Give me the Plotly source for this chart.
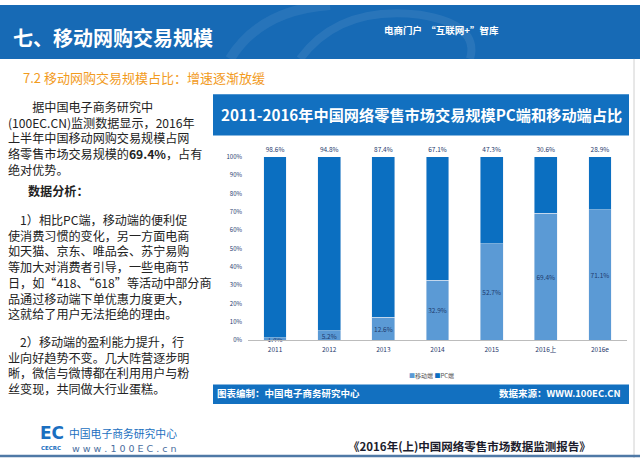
import plotly.graph_objects as go

# ---------------- data ----------------
categories = ["2011", "2012", "2013", "2014", "2015", "2016上", "2016e"]
mobile_share = [1.4, 5.2, 12.6, 32.9, 52.7, 69.4, 71.1]
pc_share = [98.6, 94.8, 87.4, 67.1, 47.3, 30.6, 28.9]
y_ticks = [0, 10, 20, 30, 40, 50, 60, 70, 80, 90, 100]
y_tick_labels = [f"{v}%" for v in y_ticks]
series_names = ["移动端", "PC端"]

W, H = 640, 462
CJK = "Noto Sans CJK SC"
NAVY = "#1f3a6e"
PC_COLOR = "#0b6fc1"
MOB_COLOR = "#5b9ad5"
BAND = "#1270c0"

fig = go.Figure()
fig.add_trace(go.Bar(
    x=categories, y=mobile_share, name=series_names[0], marker_color=MOB_COLOR,
    width=0.42, text=[f"{v}%" for v in mobile_share],
    textposition="inside", insidetextanchor="middle", constraintext="none",
    textangle=0, insidetextfont=dict(size=6.5, color=NAVY, family=CJK),
    hoverinfo="skip", cliponaxis=False,
))
fig.add_trace(go.Bar(
    x=categories, y=pc_share, name=series_names[1], marker_color=PC_COLOR,
    width=0.42, text=[f"{v}%" for v in pc_share],
    textposition="outside", constraintext="none", textangle=0,
    outsidetextfont=dict(size=6.5, color=NAVY, family=CJK),
    hoverinfo="skip", cliponaxis=False,
))


def px(x):
    return x / W


def py(y):
    return 1 - y / H


annotations = []


def ann(text, x, y, size, color="#222222", xanchor="left", family=CJK,
        yanchor="middle"):
    annotations.append(dict(
        text=text, x=px(x), y=py(y), xref="paper", yref="paper",
        xanchor=xanchor, yanchor=yanchor, showarrow=False, borderpad=0,
        align="left", font=dict(size=size, color=color, family=family),
    ))


shapes = []


def rect(x0, y0, x1, y1, color):
    shapes.append(dict(type="rect", xref="paper", yref="paper",
                       x0=px(x0), x1=px(x1), y0=py(y1), y1=py(y0),
                       fillcolor=color, line=dict(width=0), layer="below"))


def line(x0, y0, x1, y1, color, width):
    shapes.append(dict(type="line", xref="paper", yref="paper",
                       x0=px(x0), x1=px(x1), y0=py(y0), y1=py(y1),
                       line=dict(color=color, width=width), layer="below"))


# header band
rect(0, 0, 640, 55, "#176ab5")
shapes.append(dict(type="path", xref="paper", yref="paper",
                   path=f"M {px(300)},{py(55)} Q {px(340)},{py(0)} {px(420)},{py(10)} "
                        f"Q {px(480)},{py(20)} {px(470)},{py(55)}",
                   line=dict(color="rgba(255,255,255,0.08)", width=8), layer="below"))
shapes.append(dict(type="path", xref="paper", yref="paper",
                   path=f"M {px(230)},{py(55)} Q {px(260)},{py(5)} {px(330)},{py(0)}",
                   line=dict(color="rgba(255,255,255,0.07)", width=10), layer="below"))

ann("<b>七、移动网购交易规模</b>", 12, 33, 20, "#ffffff")
ann("<b>电商门户  “互联网+”智库</b>", 383, 25, 9.5, "#ffffff")

# subtitle
ann("7.2 移动网购交易规模占比：增速逐渐放缓", 22, 74, 13, "#f29b1d")

# chart title band and footer band
rect(213, 91, 629, 133, BAND)
ann("<b>2011-2016年中国网络零售市场交易规模PC端和移动端占比</b>", 421, 111, 15.2,
    "#ffffff", xanchor="center")
rect(213, 387, 629, 407, BAND)
ann("<b>图表编制：中国电子商务研究中心</b>", 216, 396, 9.5, "#ffffff")
ann("<b>数据来源：WWW.100EC.CN</b>", 622, 396, 9.5, "#ffffff", xanchor="right")

# legend drawn as text with coloured squares
ann(f"<span style='color:{MOB_COLOR}'>■</span>{series_names[0]} "
    f"<span style='color:{PC_COLOR}'>■</span>{series_names[1]}",
    431, 378, 6, "#555555", xanchor="center")

# right border and bottom line
line(634, 55, 634, 462, "#d0d0d0", 1)
line(0, 460, 640, 460, "#4f79a6", 2.5)

# left text paragraphs (one annotation each, plotly line spacing = 1.3em)
TS = 12.1
para1 = "<br>".join([
    "　　据中国电子商务研究中",
    "(100EC.CN)监测数据显示，2016年",
    "上半年中国移动网购交易规模占网",
    "络零售市场交易规模的<b>69.4%</b>，占有",
    "绝对优势。",
])
ann(para1, 7, 94, TS, yanchor="top")

ann("<b>数据分析：</b>", 27, 189, TS)

para2 = "<br>".join([
    "　1）相比PC端，移动端的便利促",
    "使消费习惯的变化，另一方面电商",
    "如天猫、京东、唯品会、苏宁易购",
    "等加大对消费者引导，一些电商节",
    "日，如“418、“618”等活动中部分商",
    "品通过移动端下单优惠力度更大，",
    "这就给了用户无法拒绝的理由。",
])
ann(para2, 7, 209, TS, yanchor="top")

para3 = "<br>".join([
    "　2）移动端的盈利能力提升，行",
    "业向好趋势不变。几大阵营逐步明",
    "晰，微信与微博都在利用用户与粉",
    "丝变现，共同做大行业蛋糕。",
])
ann(para3, 7, 333, TS, yanchor="top")

# logo
ann("<b>EC</b>", 39, 436, 17, "#1a6fc0", family="Arial Black, DejaVu Sans")
ann("<b>CECRC</b>", 40, 452, 5.5, "#1a6fc0", family="DejaVu Sans")
ann("中国电子商务研究中心", 68, 437, 10.8, "#1a6fc0")
ann("w w w . 1 0 0 E C . c n", 71, 452, 9.5, "#4a6e9e", family="DejaVu Sans")

# report title
ann("<b>《2016年(上)中国网络零售市场数据监测报告》</b>", 592, 450, 11.5, "#1c1c2c",
    xanchor="right")

fig.update_layout(
    width=W, height=H,
    margin=dict(l=0, r=0, t=0, b=0),
    paper_bgcolor="#ffffff", plot_bgcolor="#ffffff",
    barmode="stack",
    showlegend=False,
    xaxis=dict(domain=[px(248), px(627)], showline=True, linecolor="#bcbcbc",
               linewidth=1, ticks="", tickfont=dict(size=6.5, color=NAVY, family=CJK),
               ticklabelstandoff=3, showgrid=False, fixedrange=True),
    yaxis=dict(domain=[py(342), py(155)], range=[0, 100], tickvals=y_ticks,
               ticktext=y_tick_labels, showgrid=False, zeroline=False,
               showline=False, ticks="", ticklabelstandoff=5,
               tickfont=dict(size=6, color=NAVY, family=CJK), fixedrange=True),
    annotations=annotations,
    shapes=shapes,
)

fig.write_html(
    "out.html",
    config={"displayModeBar": False},
    post_script="document.body.style.margin='0';document.body.style.overflow='hidden';",
)
